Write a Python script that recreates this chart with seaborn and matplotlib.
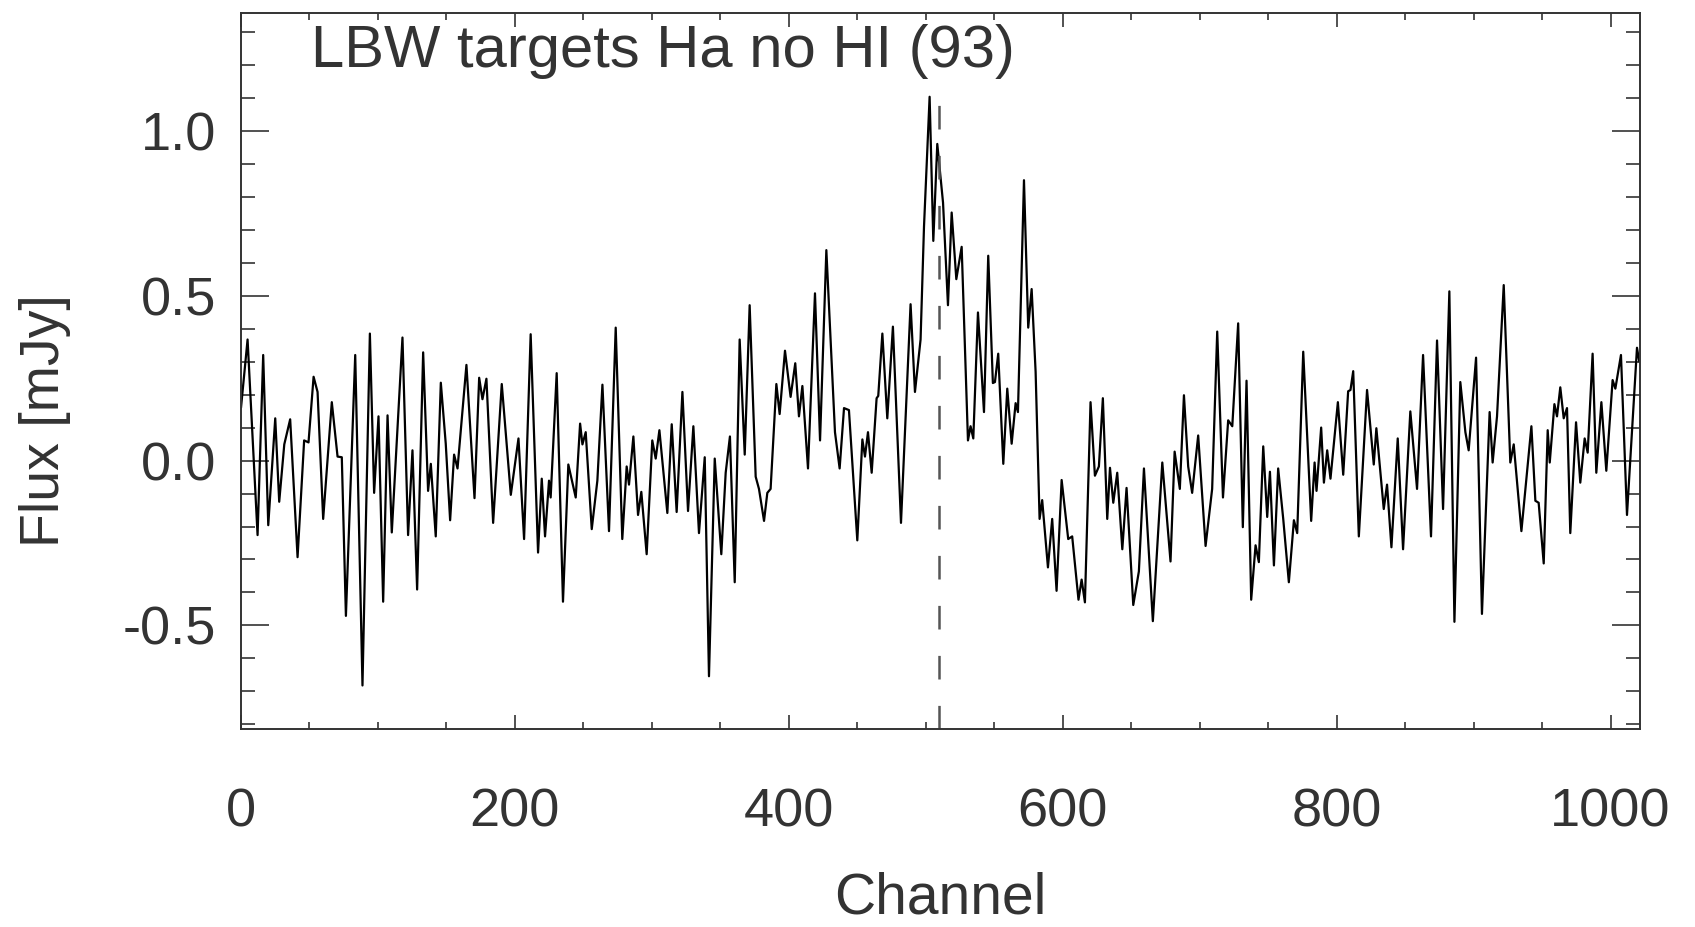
import matplotlib
matplotlib.use("Agg")
import matplotlib.pyplot as plt
import seaborn as sns
import pandas as pd
from matplotlib.ticker import MultipleLocator

# ---- data (turning points of the spectrum) ----
channel = [
    0, 4.8, 12.1, 16.2, 19.9, 25.0, 27.9, 31.6, 35.9, 41.3, 46.1, 49.3, 53.0, 55.9, 60.0,
    66.3, 70.5, 73.6, 76.6, 83.4, 88.7, 94.1, 97.2, 100.4,
    103.8, 107.0, 110.1, 117.9, 122.0, 125.2, 128.6, 133.0, 136.6, 138.6, 142.2, 145.9,
    149.5, 152.7, 155.6, 158.1, 164.6, 170.5, 173.9, 176.3, 179.2, 184.1, 190.4, 197.0, 202.6,
    206.7, 211.5, 216.9, 219.6, 222.0, 224.9, 226.1, 230.5, 235.1, 239.0, 244.4, 247.6,
    249.3, 251.7, 256.1, 260.2, 263.9, 268.7, 273.6, 278.4, 281.6, 283.3, 286.5, 289.9,
    292.3, 296.2, 300.3, 302.8, 305.5,
    311.3, 314.5, 318.1, 322.3, 326.4, 330.3, 334.4, 338.6, 341.7, 345.9, 350.7, 353.9,
    357.0, 360.5, 364.1, 367.8, 371.4, 375.8, 378.2, 381.9, 384.3, 386.7, 390.9, 393.3,
    397.2, 401.3, 404.7,
    407.4, 409.9, 414.0, 419.1, 422.8, 427.4, 433.7, 437.1, 440.3, 443.9, 450.0, 453.7,
    455.6, 457.8, 460.5, 464.1, 465.3, 468.3, 471.9, 476.0, 481.9, 488.9, 492.1, 496.2,
    498.7, 502.8, 505.5, 508.4,
    512.6, 516.2, 518.9, 522.3, 526.2, 530.8, 532.7, 534.7, 538.1, 542.5, 545.6, 549.0,
    550.5, 552.9, 556.6, 559.5, 562.7, 565.6, 567.3, 571.7, 574.8, 577.3, 580.2, 583.1,
    585.0, 589.2, 592.3, 595.5, 599.2, 604.0, 606.9, 611.5,
    613.8, 616.2, 620.3, 623.5, 626.4, 629.3, 632.5, 634.5, 636.9, 639.8, 643.5, 646.6,
    651.5, 655.6, 659.3, 665.8, 672.7, 678.7, 681.7, 685.5, 688.5, 691.6, 694.5, 698.9,
    704.3, 709.1, 712.8,
    717.0, 720.8, 723.8, 728.1, 731.5, 734.2, 737.6, 740.8, 743.2, 746.4, 749.3, 751.3,
    754.2, 757.3, 761.0, 765.1, 768.8, 771.2, 775.6, 781.4, 783.9, 785.3, 788.7, 790.7,
    793.1, 795.5, 800.9, 804.8, 808.4, 810.1, 812.1, 816.2,
    822.2, 827.1, 829.0, 834.4, 836.8, 840.0, 844.6, 848.5, 853.8, 858.7, 863.1, 868.9,
    873.3, 877.7, 882.3, 886.0, 890.3, 894.0, 896.4, 901.8, 906.1, 911.7, 913.9, 917.1,
    922.0, 926.8, 929.3, 934.9, 942.2, 945.1, 947.5, 951.2, 954.1, 955.6, 959.0, 960.9,
    963.3, 965.8, 968.2, 970.6, 974.8, 977.9, 981.1, 983.3, 986.9, 989.6, 993.3, 996.9,
    1001.5, 1003.5, 1007.6, 1012.0, 1015.6, 1019.3, 1021.0,
]
flux = [
    0.16, 0.367, -0.226, 0.320, -0.196, 0.128, -0.125, 0.049, 0.125, -0.293, 0.061, 0.055, 0.254, 0.208, -0.177,
    0.177, 0.012, 0.010, -0.471, 0.320, -0.682, 0.385, -0.098, 0.134,
    -0.428, 0.137, -0.218, 0.373, -0.226, 0.031, -0.391, 0.328, -0.092, -0.010, -0.230, 0.236,
    0.051, -0.181, 0.018, -0.024, 0.290, -0.114, 0.251, 0.186, 0.248, -0.189, 0.232, -0.104, 0.067,
    -0.238, 0.383, -0.279, -0.055, -0.230, -0.061, -0.112, 0.265, -0.428, -0.012, -0.112, 0.112,
    0.049, 0.086, -0.208, -0.061, 0.230, -0.214, 0.403, -0.238, -0.018, -0.073, 0.073, -0.165,
    -0.095, -0.284, 0.061, 0.006, 0.092,
    -0.159, 0.110, -0.156, 0.208, -0.153, 0.104, -0.220, 0.010, -0.654, 0.006, -0.284, -0.037,
    0.073, -0.369, 0.367, 0.018, 0.471, -0.049, -0.086, -0.183, -0.098, -0.086, 0.232, 0.141,
    0.333, 0.193, 0.295,
    0.134, 0.226, -0.024, 0.507, 0.061, 0.638, 0.086, -0.024, 0.159, 0.153, -0.242, 0.064,
    0.012, 0.086, -0.037, 0.189, 0.196, 0.385, 0.128, 0.406, -0.189, 0.474, 0.208, 0.367,
    0.709, 1.103, 0.666, 0.960,
    0.782, 0.471, 0.752, 0.550, 0.648, 0.061, 0.104, 0.067, 0.449, 0.147, 0.621, 0.235,
    0.238, 0.324, -0.010, 0.218, 0.051, 0.174, 0.147, 0.850, 0.403, 0.520, 0.269, -0.177,
    -0.120, -0.324, -0.177, -0.395, -0.059, -0.238, -0.230, -0.422,
    -0.361, -0.430, 0.177, -0.046, -0.018, 0.189, -0.177, -0.022, -0.128, -0.037, -0.269, -0.083,
    -0.438, -0.336, -0.024, -0.487, -0.006, -0.306, 0.027, -0.086, 0.198, -0.018, -0.098, 0.076,
    -0.259, -0.086, 0.391,
    -0.112, 0.122, 0.104, 0.416, -0.202, 0.242, -0.422, -0.257, -0.308, 0.043, -0.171, -0.034,
    -0.318, -0.024, -0.177, -0.369, -0.181, -0.220, 0.330, -0.183, -0.006, -0.092, 0.100, -0.067,
    0.031, -0.055, 0.177, -0.043, 0.210, 0.214, 0.271, -0.230,
    0.214, -0.012, 0.098, -0.147, -0.073, -0.263, 0.067, -0.269, 0.149, -0.086, 0.320, -0.230,
    0.364, -0.147, 0.513, -0.489, 0.238, 0.086, 0.031, 0.312, -0.465, 0.147, -0.006, 0.134,
    0.532, -0.006, 0.049, -0.214, 0.104, -0.122, -0.128, -0.312, 0.092, -0.006, 0.171, 0.134,
    0.222, 0.128, 0.159, -0.220, 0.116, -0.067, 0.067, 0.024, 0.324, -0.037, 0.177, -0.031,
    0.244, 0.218, 0.320, -0.165, 0.086, 0.342, 0.30,
]
center_channel = 510
center_line_top = 1.13
title_text = "LBW targets Ha no HI (93)"
x_label = "Channel"
y_label = "Flux [mJy]"
x_ticks = [0, 200, 400, 600, 800, 1000]
y_ticks = [-0.5, 0.0, 0.5, 1.0]
x_limits = (0, 1021.5)
y_limits = (-0.814, 1.357)

# ---- styling ----
sns.set_style("white")
plt.rcParams["font.family"] = ["Liberation Sans", "DejaVu Sans"]
plt.rcParams["lines.scale_dashes"] = False
text_color = "#333333"

fig = plt.figure(figsize=(16.95, 9.27), dpi=100)
ax = fig.add_axes([241 / 1695, 1 - 729 / 927, (1640 - 241) / 1695, (729 - 13) / 927])

df = pd.DataFrame({"Channel": channel, "Flux": flux})
sns.lineplot(data=df, x="Channel", y="Flux", ax=ax, sort=False, estimator=None,
             color="black", linewidth=1.6)
for ln in ax.lines:
    ln.set_solid_joinstyle("round")
    ln.set_solid_capstyle("round")

ax.plot([center_channel, center_channel], [y_limits[0], center_line_top],
        color="#555555", linewidth=1.8, linestyle=(0, (17, 19)))

ax.set_xlim(*x_limits)
ax.set_ylim(*y_limits)
ax.set_xticks(x_ticks)
ax.set_yticks(y_ticks)
ax.set_xticklabels([str(v) for v in x_ticks])
ax.set_yticklabels(["%.1f" % v for v in y_ticks])
ax.xaxis.set_minor_locator(MultipleLocator(50))
ax.yaxis.set_minor_locator(MultipleLocator(0.1))

ax.tick_params(axis="both", which="both", direction="in",
               left=True, bottom=True, top=True, right=True,
               colors=text_color, labelcolor=text_color, width=1.2)
ax.tick_params(axis="y", which="major", length=20, pad=18, labelsize=39)
ax.tick_params(axis="y", which="minor", length=10)
ax.tick_params(axis="x", which="major", length=10, pad=42, labelsize=39)
ax.tick_params(axis="x", which="minor", length=5)

for s in ax.spines.values():
    s.set_color(text_color)
    s.set_linewidth(1.4)

ax.set_xlabel("")
ax.set_ylabel("")
fig.text(940 / 1695, 2 / 927, x_label, ha="center", va="bottom",
         fontsize=41, color=text_color)
fig.text(45 / 1695, 1 - 421 / 927, y_label, ha="center", va="center", rotation=90,
         fontsize=40, color=text_color)
fig.text(311 / 1695, 1 - 67 / 927, title_text, ha="left", va="baseline",
         fontsize=43, color=text_color)

fig.savefig("out.png", dpi=100)
